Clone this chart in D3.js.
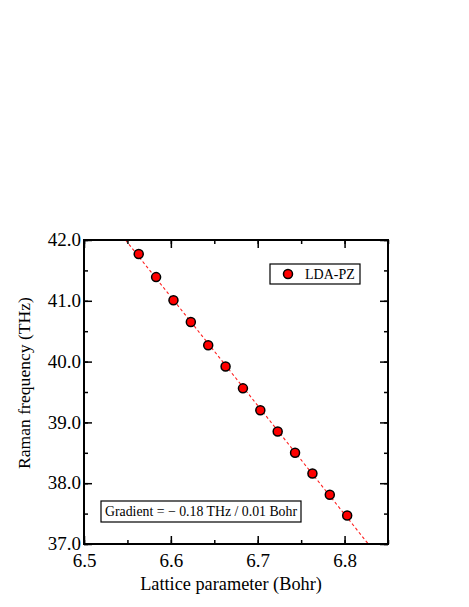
<!DOCTYPE html>
<html><head><meta charset="utf-8">
<script src="https://cdn.jsdelivr.net/npm/d3@7"></script>
<style>body{margin:0;background:#fff}svg text{font-family:"Liberation Serif","Times New Roman",serif;fill:#000}</style>
</head><body>
<svg id="c" width="469" height="607"></svg>
<script>
const latticeParam = [6.563,6.583,6.603,6.623,6.643,6.663,6.683,6.703,6.723,6.743,6.763,6.783,6.803];
const ramanFreq = [41.77,41.39,41.01,40.65,40.27,39.92,39.56,39.20,38.85,38.50,38.16,37.81,37.47];
const xTicks = [6.5,6.6,6.7,6.8];
const yTicks = [37,38,39,40,41,42];
const seriesName = "LDA-PZ";
const gradientLabel = "Gradient = \u2212 0.18 THz / 0.01 Bohr";

(function(){
const svg = d3.select("#c");
const L=84,R=388,T=240,B=544;
const x = d3.scaleLinear().domain([6.5,6.85]).range([L,R]);
const y = d3.scaleLinear().domain([37,42]).range([B,T]);

// linear fit
const n=latticeParam.length, mx=d3.mean(latticeParam), my=d3.mean(ramanFreq);
let sxy=0,sxx=0; for(let i=0;i<n;i++){sxy+=(latticeParam[i]-mx)*(ramanFreq[i]-my);sxx+=(latticeParam[i]-mx)**2;}
const slope=sxy/sxx, icpt=my-slope*mx;
svg.append("clipPath").attr("id","pc").append("rect").attr("x",L).attr("y",T).attr("width",R-L).attr("height",B-T);
const x0=(42-icpt)/slope, x1=(37-icpt)/slope;
svg.append("line").attr("clip-path","url(#pc)")
  .attr("x1",x(x0)).attr("y1",y(42)).attr("x2",x(x1)).attr("y2",y(37))
  .attr("stroke","#ff2020").attr("stroke-width",1.1).attr("stroke-dasharray","3,2.5");

const minorX = d3.range(6.5,6.851,0.05), minorY = d3.range(37,42.01,0.5);
const fmt = d3.format(".1f");
function ax(gen, tr){ return svg.append("g").attr("transform",tr).call(gen); }
const gBottom = ax(d3.axisBottom(x).tickValues(xTicks).tickFormat(fmt).tickSizeInner(-8).tickSizeOuter(0),`translate(0,${B})`);
ax(d3.axisBottom(x).tickValues(minorX).tickFormat("").tickSizeInner(-4).tickSizeOuter(0),`translate(0,${B})`);
ax(d3.axisTop(x).tickValues(xTicks).tickFormat("").tickSizeInner(-8).tickSizeOuter(0),`translate(0,${T})`);
ax(d3.axisTop(x).tickValues(minorX).tickFormat("").tickSizeInner(-4).tickSizeOuter(0),`translate(0,${T})`);
const gLeft = ax(d3.axisLeft(y).tickValues(yTicks).tickFormat(fmt).tickSizeInner(-8).tickSizeOuter(0),`translate(${L},0)`);
ax(d3.axisLeft(y).tickValues(minorY).tickFormat("").tickSizeInner(-4).tickSizeOuter(0),`translate(${L},0)`);
ax(d3.axisRight(y).tickValues(yTicks).tickFormat("").tickSizeInner(-8).tickSizeOuter(0),`translate(${R},0)`);
ax(d3.axisRight(y).tickValues(minorY).tickFormat("").tickSizeInner(-4).tickSizeOuter(0),`translate(${R},0)`);
svg.selectAll(".domain").remove();
svg.selectAll("g").attr("font-family",null);
svg.selectAll(".tick line").attr("stroke","#000").attr("stroke-width",1.5);
svg.selectAll(".tick text").attr("font-size",19).attr("font-family","Liberation Serif");
gBottom.selectAll(".tick text").attr("y",23).attr("dy","0");
gLeft.selectAll(".tick text").attr("x",-3).attr("dy","0.3em");
svg.append("rect").attr("x",L).attr("y",T).attr("width",R-L).attr("height",B-T)
  .attr("fill","none").attr("stroke","#000").attr("stroke-width",2);

svg.append("g").selectAll("circle").data(latticeParam).join("circle")
  .attr("cx",d=>x(d)).attr("cy",(d,i)=>y(ramanFreq[i])).attr("r",4.5)
  .attr("fill","#ff0000").attr("stroke","#000").attr("stroke-width",1.5);

svg.append("text").attr("x",231).attr("y",590).attr("text-anchor","middle").attr("font-size",18.3).text("Lattice parameter (Bohr)");
svg.append("text").attr("transform",`translate(30,383) rotate(-90)`).attr("text-anchor","middle").attr("font-size",17.6).text("Raman frequency (THz)");

svg.append("rect").attr("x",270).attr("y",264).attr("width",90).attr("height",20).attr("fill","#fff").attr("stroke","#000").attr("stroke-width",1.2);
svg.append("circle").attr("cx",288).attr("cy",274).attr("r",4.5).attr("fill","#ff0000").attr("stroke","#000").attr("stroke-width",1.5);
svg.append("text").attr("x",305).attr("y",279).attr("font-size",14).text(seriesName);

svg.append("rect").attr("x",101).attr("y",501).attr("width",200).attr("height",21).attr("fill","#fff").attr("stroke","#000").attr("stroke-width",1.2);
svg.append("text").attr("x",201).attr("y",516).attr("text-anchor","middle").attr("font-size",13.8).text(gradientLabel);
})();
</script>
</body></html>
